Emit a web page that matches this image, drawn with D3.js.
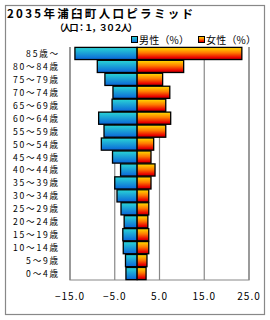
<!DOCTYPE html>
<html>
<head>
<meta charset="utf-8">
<script src="https://cdn.jsdelivr.net/npm/d3@7"></script>
<style>
  body { margin: 0; background: #fff; }
  text { font-family: "Noto Sans CJK JP", sans-serif; fill: #000; }
</style>
</head>
<body>
<svg id="chart" width="270" height="320"></svg>
<script>
// age groups, top row first
const ageGroups = ["85歳～", "80～84歳", "75～79歳", "70～74歳", "65～69歳", "60～64歳",
  "55～59歳", "50～54歳", "45～49歳", "40～44歳", "35～39歳", "30～34歳",
  "25～29歳", "20～24歳", "15～19歳", "10～14歳", "5～9歳", "0～4歳"];
// percent of each sex
const male = [13.9, 8.9, 7.2, 5.4, 5.6, 8.6, 7.4, 8.0, 5.5, 3.7, 5.0, 4.5, 3.6, 2.9, 3.2, 3.1, 2.6, 2.5];
const female = [23.4, 10.4, 5.7, 7.3, 6.4, 7.5, 6.4, 3.7, 3.1, 4.0, 3.1, 2.6, 2.6, 2.4, 2.6, 2.6, 2.2, 2.0];
const xTicks = [-15, -5, 5, 15, 25];

const svg = d3.select("#chart");

// gradients for the bars
const defs = svg.append("defs");
const gm = defs.append("linearGradient").attr("id", "gMale")
  .attr("x1", 0).attr("y1", 0).attr("x2", 0).attr("y2", 1);
gm.append("stop").attr("offset", "0%").attr("stop-color", "#2ad6d6");
gm.append("stop").attr("offset", "100%").attr("stop-color", "#0a64d8");
const gf = defs.append("linearGradient").attr("id", "gFemale")
  .attr("x1", 0).attr("y1", 0).attr("x2", 0).attr("y2", 1);
gf.append("stop").attr("offset", "0%").attr("stop-color", "#ffe000");
gf.append("stop").attr("offset", "45%").attr("stop-color", "#ff7a00");
gf.append("stop").attr("offset", "85%").attr("stop-color", "#e80000");
gf.append("stop").attr("offset", "100%").attr("stop-color", "#b00000");

// outer frame
svg.append("rect").attr("x", 5.5).attr("y", 5.5).attr("width", 259).attr("height", 309)
  .attr("fill", "none").attr("stroke", "#888").attr("stroke-width", 1.2);

// titles
svg.append("text").attr("x", 7).attr("y", 17.5)
  .attr("font-size", 11.5).attr("font-weight", "bold")
  .attr("textLength", 186).attr("lengthAdjust", "spacing")
  .text("2035年浦臼町人口ピラミッド");
svg.append("text").attr("x", 55).attr("y", 31)
  .attr("font-size", 9).attr("font-weight", "bold")
  .attr("textLength", 82).attr("lengthAdjust", "spacing")
  .text("（人口：１，３０２人）");

// legend
const legend = [
  { label: "男性（%）", fill: "url(#gMale)", x: 131 },
  { label: "女性（%）", fill: "url(#gFemale)", x: 198 }
];
legend.forEach(function (d) {
  svg.append("rect").attr("x", d.x + 0.5).attr("y", 36.5).attr("width", 6).attr("height", 6)
    .attr("fill", d.fill).attr("stroke", "#000").attr("stroke-width", 1);
  svg.append("text").attr("x", d.x + 8).attr("y", 43.5)
    .attr("font-size", 10).attr("textLength", 50).attr("lengthAdjust", "spacing")
    .text(d.label);
});

// plot area
const plotLeft = 70, plotRight = 249, plotTop = 47, plotBottom = 280;
const x = d3.scaleLinear().domain([-15, 25]).range([plotLeft, plotRight]);
const y = d3.scaleBand().domain(ageGroups).range([plotTop, plotBottom]).paddingInner(0.06).paddingOuter(0.03);

// gridlines
svg.append("g").selectAll("line").data(xTicks).enter().append("line")
  .attr("x1", (d) => x(d)).attr("x2", (d) => x(d))
  .attr("y1", plotTop).attr("y2", plotBottom)
  .attr("stroke", "#888").attr("stroke-width", 1.2);
// zero line
svg.append("line").attr("x1", x(0)).attr("x2", x(0)).attr("y1", plotTop).attr("y2", plotBottom)
  .attr("stroke", "#888").attr("stroke-width", 1.2);
// left, bottom and right frame of plot area
svg.append("path")
  .attr("d", `M${plotLeft},${plotTop}V${plotBottom}H${plotRight}V${plotTop}`)
  .attr("fill", "none").attr("stroke", "#888").attr("stroke-width", 1.2);

// male bars
svg.append("g").selectAll("rect").data(ageGroups).enter().append("rect")
  .attr("x", (d, i) => x(-male[i]))
  .attr("y", (d) => y(d))
  .attr("width", (d, i) => x(0) - x(-male[i]))
  .attr("height", y.bandwidth())
  .attr("fill", "url(#gMale)")
  .attr("stroke", "#000").attr("stroke-width", 1.3);

// female bars
svg.append("g").selectAll("rect").data(ageGroups).enter().append("rect")
  .attr("x", x(0))
  .attr("y", (d) => y(d))
  .attr("width", (d, i) => x(female[i]) - x(0))
  .attr("height", y.bandwidth())
  .attr("fill", "url(#gFemale)")
  .attr("stroke", "#000").attr("stroke-width", 1.3);

// age labels
svg.append("g").selectAll("text").data(ageGroups).enter().append("text")
  .attr("x", 60)
  .attr("y", (d) => y(d) + y.bandwidth() / 2 + 3.5)
  .attr("text-anchor", "end")
  .attr("font-size", 8.6)
  .attr("letter-spacing", 1.8)
  .text((d) => d);

// x tick labels
const fmt = d3.format(".1f");
svg.append("g").selectAll("text").data(xTicks).enter().append("text")
  .attr("x", (d) => x(d))
  .attr("y", 300)
  .attr("text-anchor", "middle")
  .attr("font-size", 10)
  .attr("letter-spacing", 1)
  .text((d) => fmt(d).replace("-", "−"));
</script>
</body>
</html>
